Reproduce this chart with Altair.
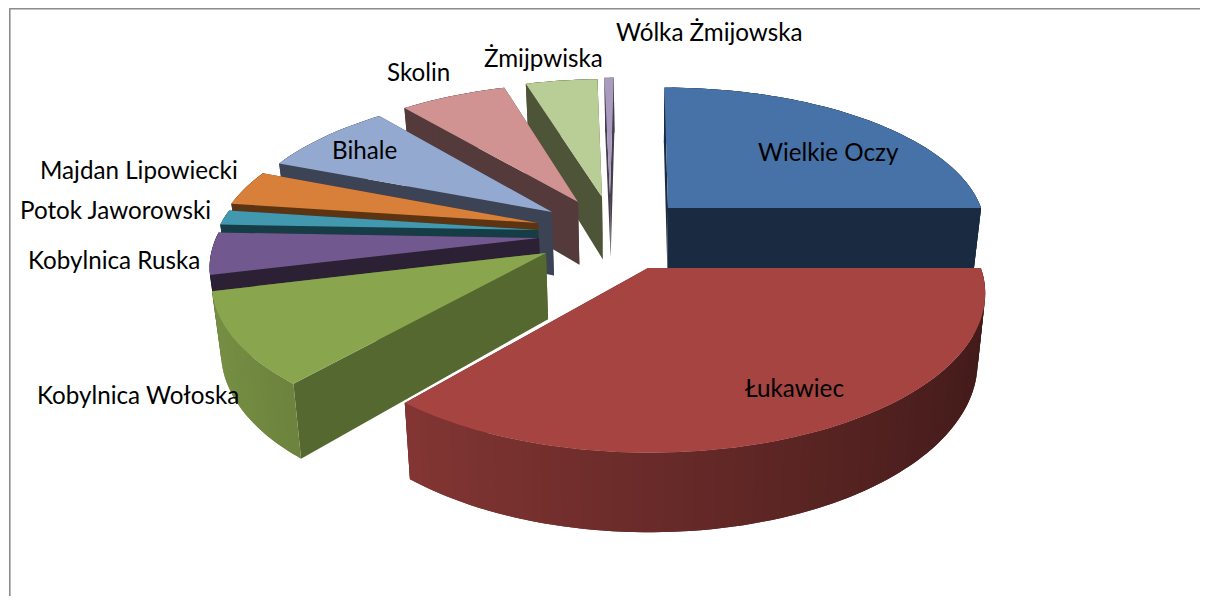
import math
import altair as alt

# --- chart values (share of the pie, %) ---
names = ["Wielkie Oczy", "Łukawiec", "Kobylnica Wołoska", "Kobylnica Ruska", "Potok Jaworowski",
         "Majdan Lipowiecki", "Bihale", "Skolin", "Żmijpwiska", "Wólka Żmijowska"]
values = [25.0, 36.2, 9.9, 4.5, 1.6, 3.8, 7.9, 6.3, 4.25, 0.55]

# --- styles ---
top_colors = ["#4672a7", "#a54441", "#89a54e", "#71588f", "#4198af", "#d87f3a", "#93a9cf", "#d19392", "#b9cd96", "#a99bbd"]
dark_colors = ["#1a2b41", "#5a2423", "#55682f", "#2c2035", "#163c46", "#5c3411", "#3c4355", "#543a3a", "#4d5438", "#453e4c"]
shaded_rim = [False, True, True, False, False, False, False, False, False, False]

# --- layout: pie projection and where each exploded slice's tip lies ---
W, H = 1192, 588
X0, Y0, A, B, K = 632, 227, 322, 146, 0.15
DEPTH, BOTTOM_SCALE = 65, 0.978
tips = [(660, 200), (640, 260), (538, 245), (531, 230), (530, 222),
        (530, 215), (544, 204), (570, 194), (594, 189), (602, 187)]
label_xy = [(750, 146), (737, 382), (29, 389), (20, 254), (12, 204),
            (32, 164), (324, 144), (379, 66), (476, 52), (608, 26)]
paint_order = [9, 8, 7, 6, 5, 4, 3, 2, 0, 1]


def to_plane(px, py):
    t = (py - Y0) / B
    v = t / (1 + K * t)
    u = (px - X0) * (1 - K * v) / A
    return u, v


def top_pt(u, v):
    w = 1 - K * v
    return X0 + A * u / w, Y0 + B * v / w


def low_pt(u, v):
    x, y = top_pt(u, v)
    return X0 + (x - X0) * BOTTOM_SCALE, y + DEPTH / (1 - K * v)


def shade(hex_color, f):
    r, g, b = (int(hex_color[i:i + 2], 16) for i in (1, 3, 5))
    return "#%02x%02x%02x" % (int(r * f), int(g * f), int(b * f))


def poly(points, color):
    ring = [[float(x), float(y)] for x, y in points]
    ring.append(ring[0])
    return {"type": "Feature", "geometry": {"type": "Polygon", "coordinates": [ring]},
            "properties": {"c": color}}


total = sum(values)
bounds = [0.0]
for val in values:
    bounds.append(bounds[-1] + val / total * 2 * math.pi)

features = [poly([(1, 0), (W, 0), (W, 1.6), (2.6, 1.6), (2.6, H), (1, H)], "#8c8c8c")]

for i in paint_order:
    start, end = bounds[i], bounds[i + 1]
    uc, vc = to_plane(*tips[i])
    n = max(2, int((end - start) / math.radians(1.5)))
    thetas = [start + (end - start) * j / n for j in range(n + 1)]
    rim = [(uc + math.sin(t), vc - math.cos(t)) for t in thetas]
    # the two radial walls
    for p in (rim[-1], rim[0]):
        features.append(poly([top_pt(uc, vc), top_pt(*p), low_pt(*p), low_pt(uc, vc)], dark_colors[i]))
    # outer wall, shaded from light (left) to dark (right); strips overlap so no seams show
    for j in range(n):
        p, q = rim[j], rim[min(j + 2, n)]
        m = rim[min(j + 1, n)]
        mid = thetas[j] + (thetas[1] - thetas[0]) / 2
        f = 0.64 - 0.24 * math.sin(mid)
        if math.cos(mid) > 0:
            f = 0.4
        color = shade(top_colors[i], f) if shaded_rim[i] else dark_colors[i]
        features.append(poly([top_pt(*p), top_pt(*m), top_pt(*q), low_pt(*q), low_pt(*m), low_pt(*p)], color))
    # top face
    features.append(poly([top_pt(uc, vc)] + [top_pt(*p) for p in rim], top_colors[i]))

shapes = alt.Chart(alt.Data(values=features)).mark_geoshape(strokeWidth=0).encode(
    fill=alt.Fill("properties.c:N", scale=None),
).project(type="identity", scale=1, translate=[0, 0])

labels = alt.Chart(alt.Data(values=[
    {"name": n, "px": p[0], "py": p[1]} for n, p in zip(names, label_xy)
])).mark_text(font="Lato", fontSize=24.2, color="#000000", align="left", baseline="middle").encode(
    x=alt.X("px:Q", scale=None, axis=None),
    y=alt.Y("py:Q", scale=None, axis=None),
    text="name:N",
)

chart = alt.layer(shapes, labels).resolve_scale(x="independent", y="independent").properties(
    width=W, height=H, padding=0, background="#ffffff", autosize=alt.AutoSizeParams(type="none")
).configure_view(stroke=None)

chart.save("out.html", embed_options={"renderer": "svg", "actions": False})
